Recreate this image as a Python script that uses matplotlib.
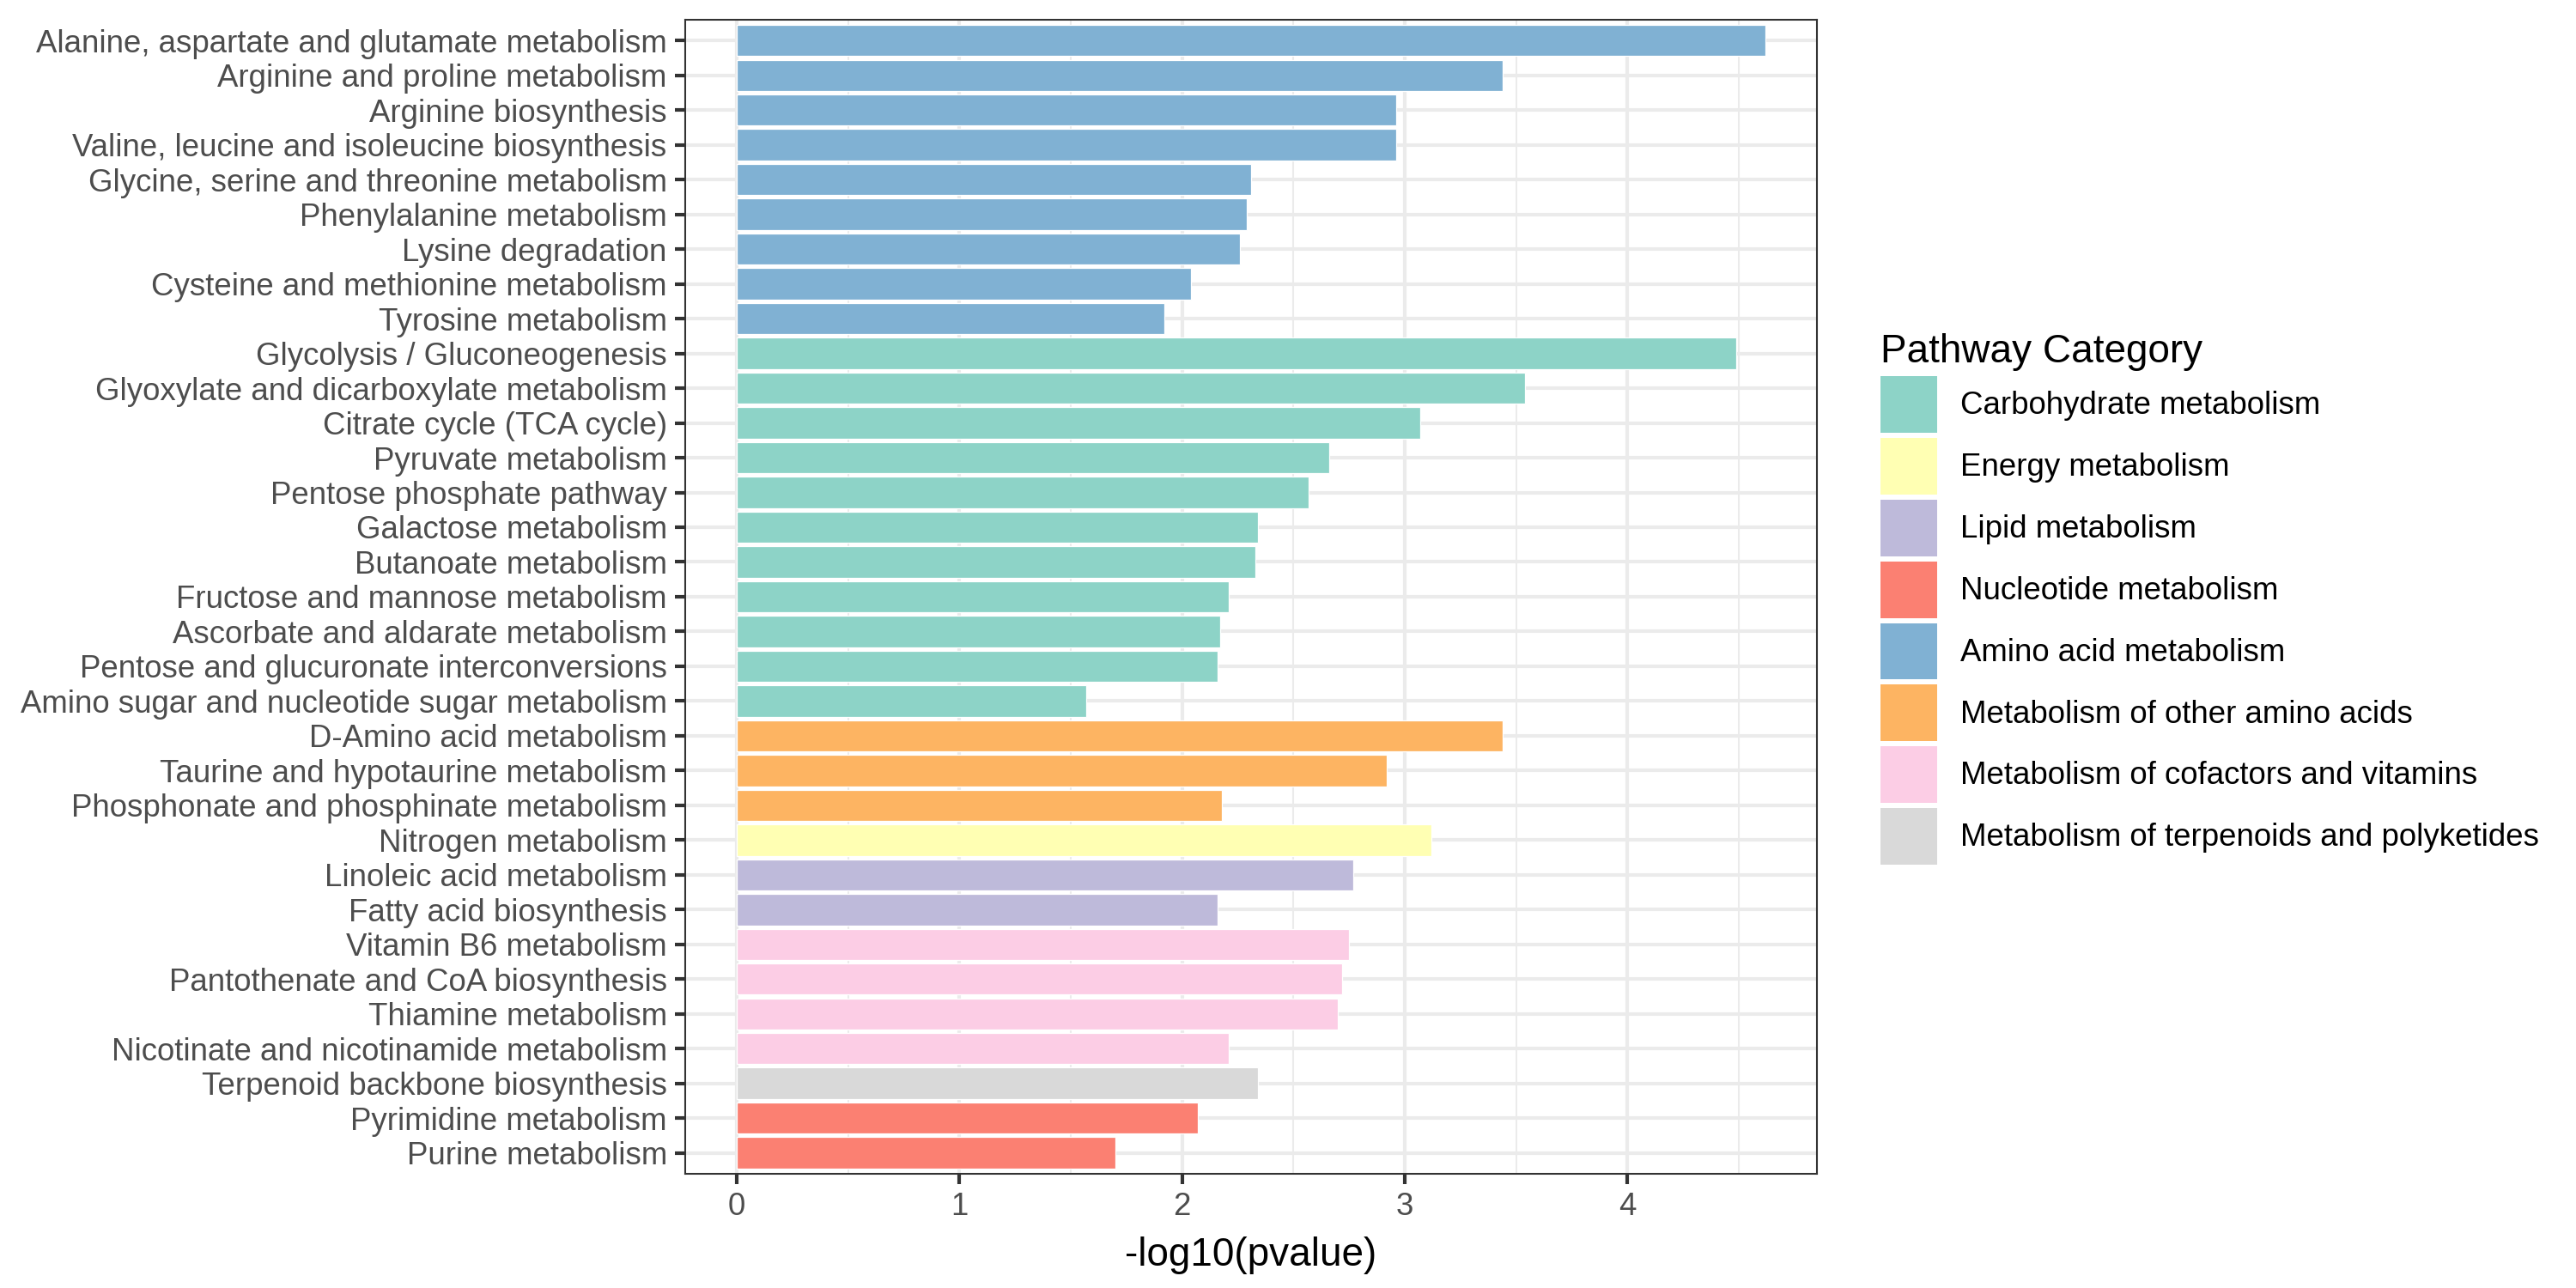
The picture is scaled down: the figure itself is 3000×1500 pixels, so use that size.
import matplotlib
matplotlib.use('Agg')
import matplotlib.pyplot as plt
from matplotlib.patches import Patch
import numpy as np

plt.rcParams['font.family'] = ['Liberation Sans', 'DejaVu Sans']

# pathways, top to bottom as drawn
pathways = [
    'Alanine, aspartate and glutamate metabolism', 'Arginine and proline metabolism',
    'Arginine biosynthesis', 'Valine, leucine and isoleucine biosynthesis',
    'Glycine, serine and threonine metabolism', 'Phenylalanine metabolism',
    'Lysine degradation', 'Cysteine and methionine metabolism', 'Tyrosine metabolism',
    'Glycolysis / Gluconeogenesis', 'Glyoxylate and dicarboxylate metabolism',
    'Citrate cycle (TCA cycle)', 'Pyruvate metabolism', 'Pentose phosphate pathway',
    'Galactose metabolism', 'Butanoate metabolism', 'Fructose and mannose metabolism',
    'Ascorbate and aldarate metabolism', 'Pentose and glucuronate interconversions',
    'Amino sugar and nucleotide sugar metabolism', 'D-Amino acid metabolism',
    'Taurine and hypotaurine metabolism', 'Phosphonate and phosphinate metabolism',
    'Nitrogen metabolism', 'Linoleic acid metabolism', 'Fatty acid biosynthesis',
    'Vitamin B6 metabolism', 'Pantothenate and CoA biosynthesis', 'Thiamine metabolism',
    'Nicotinate and nicotinamide metabolism', 'Terpenoid backbone biosynthesis',
    'Pyrimidine metabolism', 'Purine metabolism',
]
neglog_p = [
    4.62, 3.44, 2.96, 2.96, 2.31, 2.29, 2.26, 2.04, 1.92,
    4.49, 3.54, 3.07, 2.66, 2.57, 2.34, 2.33, 2.21, 2.17, 2.16, 1.57,
    3.44, 2.92, 2.18,
    3.12,
    2.77, 2.16,
    2.75, 2.72, 2.70, 2.21,
    2.34,
    2.07, 1.70,
]
category = (['Amino acid metabolism'] * 9 + ['Carbohydrate metabolism'] * 11
            + ['Metabolism of other amino acids'] * 3 + ['Energy metabolism']
            + ['Lipid metabolism'] * 2 + ['Metabolism of cofactors and vitamins'] * 4
            + ['Metabolism of terpenoids and polyketides'] + ['Nucleotide metabolism'] * 2)

legend_order = ['Carbohydrate metabolism', 'Energy metabolism', 'Lipid metabolism',
                'Nucleotide metabolism', 'Amino acid metabolism',
                'Metabolism of other amino acids', 'Metabolism of cofactors and vitamins',
                'Metabolism of terpenoids and polyketides']
set3 = ['#8DD3C7', '#FFFFB3', '#BEBADA', '#FB8072', '#80B1D3', '#FDB462', '#FCCDE5', '#D9D9D9']
col_map = dict(zip(legend_order, set3))

fig = plt.figure(figsize=(10, 5), dpi=300)
ax = fig.add_axes([0.266, 0.0887, 0.4393, 0.8960])

y = np.arange(len(pathways))
ax.barh(y, neglog_p, height=0.9, color=[col_map[c] for c in category],
        edgecolor='white', linewidth=0.3, zorder=2)

xmax = max(neglog_p)
ax.set_xlim(-0.05 * xmax, 1.05 * xmax)
ax.set_ylim(len(pathways) - 0.4, -0.6)
ax.set_yticks(y)
ax.set_yticklabels(pathways)
ax.set_xticks([0, 1, 2, 3, 4])
ax.set_xticks([0.5, 1.5, 2.5, 3.5, 4.5], minor=True)

ax.grid(True, which='major', color='#EBEBEB', linewidth=1.0, zorder=0)
ax.grid(True, which='minor', axis='x', color='#EBEBEB', linewidth=0.5, zorder=0)
ax.set_axisbelow(True)
for s in ax.spines.values():
    s.set_color('#333333')
    s.set_linewidth(0.5)
ax.tick_params(axis='both', which='major', length=2.9, width=1.0, color='#333333',
               labelsize=8.8, labelcolor='#4D4D4D', pad=2.2)
ax.tick_params(axis='both', which='minor', length=0)
ax.set_xlabel('-log10(pvalue)', fontsize=11, color='black', labelpad=4)

handles = [Patch(facecolor=col_map[c], edgecolor='none') for c in legend_order]
leg = fig.legend(handles, legend_order, loc='center left', bbox_to_anchor=(0.724, 0.535),
                 frameon=False, fontsize=8.8, title='Pathway Category', title_fontsize=11,
                 handlelength=1.80, handleheight=2.385, labelspacing=0.164,
                 handletextpad=0.74, borderpad=0, alignment='left')

fig.savefig('out.png', dpi=300, facecolor='white')
